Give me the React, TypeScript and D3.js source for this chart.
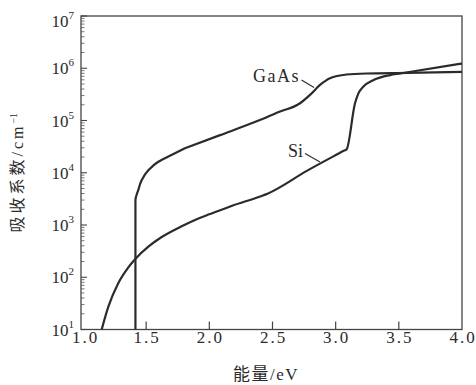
import * as d3 from "d3";
import { useEffect, useRef } from "react";

// photon energy (eV) and absorption coefficient (cm^-1)
const gaasEnergy = [1.415, 1.415, 1.438, 1.464, 1.517, 1.596, 1.7, 1.807, 2.085, 2.4, 2.56, 2.718, 2.797, 2.876, 2.955, 3.087, 3.246, 3.57, 4.0];
const gaasAlpha = [10, 3000, 4700, 7200, 11200, 16200, 21900, 29500, 52500, 102000, 148000, 214000, 309000, 479000, 646000, 759000, 794000, 813000, 851000];

const siEnergy = [1.148, 1.2, 1.279, 1.359, 1.412, 1.517, 1.623, 1.794, 1.9, 2.005, 2.17, 2.43, 2.46, 2.775, 3.06, 3.087, 3.153, 3.18, 3.22, 3.3, 3.43, 3.51, 4.0];
const siAlpha = [10, 27, 77, 155, 221, 385, 589, 980, 1290, 1620, 2290, 3720, 3980, 11000, 26000, 28200, 214000, 331000, 447000, 596000, 741000, 794000, 1230000];

const xTicks = [1.0, 1.5, 2.0, 2.5, 3.0, 3.5, 4.0];
const yExponents = [1, 2, 3, 4, 5, 6, 7];

const W = 476;
const H = 385;

const App = () => {
  const ref = useRef(null);

  useEffect(() => {
    const svg = d3.select(ref.current);
    svg.selectAll("*").remove();

    const left = 81, right = 462, top = 16, bottom = 329.5;
    const x = d3.scaleLinear().domain([1, 4]).range([83, right]);
    const y = d3.scaleLog().domain([10, 1e7]).range([bottom, top]);

    const serif = "Liberation Serif, Noto Sans CJK SC, serif";
    const ink = "#2b2b2b";

    svg.append("rect").attr("width", W).attr("height", H).attr("fill", "#fff");

    // frame
    svg.append("rect")
      .attr("x", left).attr("y", top)
      .attr("width", right - left).attr("height", bottom - top)
      .attr("fill", "none").attr("stroke", "#444").attr("stroke-width", 1.3);

    // x ticks (inside, pointing up)
    xTicks.forEach(t => {
      if (t > 1 && t < 4) {
        svg.append("line")
          .attr("x1", x(t)).attr("x2", x(t))
          .attr("y1", bottom).attr("y2", bottom - 8)
          .attr("stroke", "#444").attr("stroke-width", 1.2);
      }
      svg.append("text")
        .attr("x", x(t) + (t === 1 ? 2.5 : 1)).attr("y", bottom + 13)
        .attr("text-anchor", "middle")
        .style("font-family", serif).attr("font-size", 17).attr("letter-spacing", 2).attr("fill", ink)
        .text(t.toFixed(1));
    });

    // y ticks, major + log minor
    yExponents.forEach(e => {
      const v = Math.pow(10, e);
      svg.append("line")
        .attr("x1", left).attr("x2", left + 6)
        .attr("y1", y(v)).attr("y2", y(v))
        .attr("stroke", "#444").attr("stroke-width", 1.1);
      if (e < 7) {
        for (let k = 2; k <= 9; k++) {
          svg.append("line")
            .attr("x1", left).attr("x2", left + 3.5)
            .attr("y1", y(v * k)).attr("y2", y(v * k))
            .attr("stroke", "#555").attr("stroke-width", 0.8);
        }
      }
      const lab = svg.append("text")
        .attr("x", 74).attr("y", Math.max(y(v) + 6, 27))
        .attr("text-anchor", "end")
        .style("font-family", serif).attr("font-size", 17).attr("fill", ink);
      lab.append("tspan").text("10");
      lab.append("tspan").attr("dy", -8).attr("font-size", 11).text(String(e));
    });

    // axis titles
    const yt = svg.append("text")
      .attr("transform", `translate(23,${(top + bottom) / 2}) rotate(-90)`)
      .attr("text-anchor", "middle")
      .style("font-family", serif).attr("font-size", 16).attr("letter-spacing", 3).attr("fill", ink);
    yt.append("tspan").text("吸收系数/cm");
    yt.append("tspan").attr("dy", -6).attr("font-size", 10).attr("letter-spacing", 0).text("−1");

    svg.append("text")
      .attr("x", 266).attr("y", 380)
      .attr("text-anchor", "middle")
      .style("font-family", serif).attr("font-size", 17).attr("letter-spacing", 1.5).attr("fill", ink)
      .text("能量/eV");

    // curves
    const lineX = d3.line()
      .x(d => x(d[0]))
      .y(d => y(d[1]))
      .curve(d3.curveMonotoneX);
    const lineY = d3.line()
      .x(d => x(d[0]))
      .y(d => y(d[1]))
      .curve(d3.curveMonotoneY);

    // GaAs: vertical edge + knee drawn as x(y), the rest as y(x)
    const gaas = gaasEnergy.map((e, i) => [e, gaasAlpha[i]]);
    const knee = 7; // index where the two parts meet (1.807 eV)
    const gaasPath = lineY(gaas.slice(0, knee + 1)) + lineX(gaas.slice(knee)).replace(/^M[^CL]*/, "");
    const si = siEnergy.map((e, i) => [e, siAlpha[i]]);

    [gaasPath, lineX(si)].forEach(d => {
      svg.append("path")
        .attr("d", d)
        .attr("fill", "none")
        .attr("stroke", ink)
        .attr("stroke-width", 2.2)
        .attr("stroke-linejoin", "round");
    });

    // curve labels with leader lines
    svg.append("text")
      .attr("x", 253).attr("y", 81.5)
      .style("font-family", serif).attr("font-size", 18).attr("letter-spacing", 1.5).attr("fill", ink)
      .text("GaAs");
    svg.append("line")
      .attr("x1", 301.5).attr("y1", 80)
      .attr("x2", 314).attr("y2", 87.5)
      .attr("stroke", ink).attr("stroke-width", 1.1);

    svg.append("text")
      .attr("x", 288).attr("y", 156.5)
      .style("font-family", serif).attr("font-size", 18).attr("fill", ink)
      .text("Si");
    svg.append("line")
      .attr("x1", 305).attr("y1", 153.5)
      .attr("x2", 320).attr("y2", 162)
      .attr("stroke", ink).attr("stroke-width", 1.1);
  }, []);

  return (
    <svg ref={ref} width={W} height={H} style={{ position: "absolute", left: 0, top: 0 }}></svg>
  );
};

export default App;
